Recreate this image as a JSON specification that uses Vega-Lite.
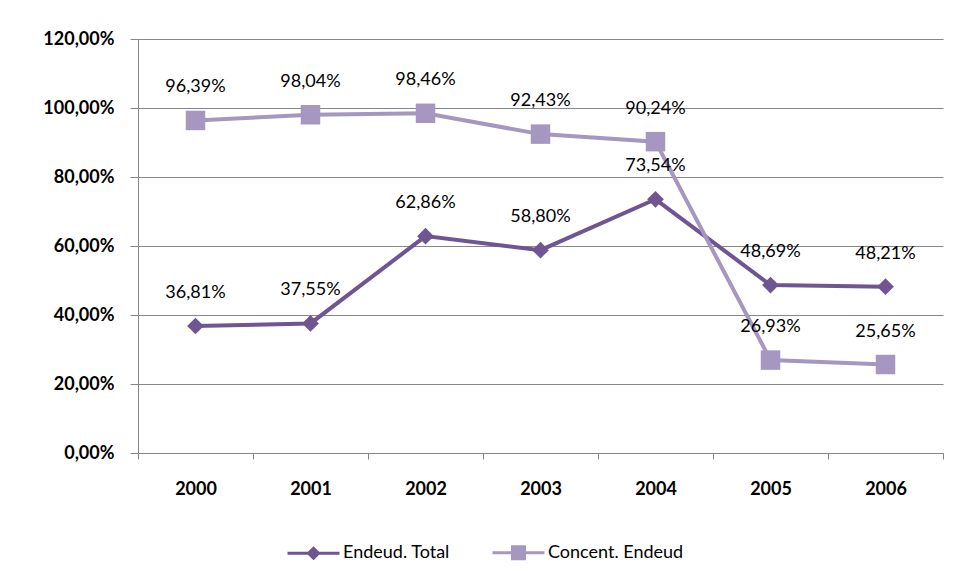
{
  "$schema": "https://vega.github.io/schema/vega-lite/v6.json",
  "width": 805,
  "height": 414,
  "autosize": {"type": "none"},
  "padding": {"left": 138, "top": 39, "right": 22, "bottom": 131},
  "background": "white",
  "config": {
    "locale": {"number": {"decimal": ",", "thousands": ".", "grouping": [3], "currency": ["", " €"]}},
    "view": {"stroke": null},
    "font": "Lato"
  },
  "data": {
    "values": [
      {"year": "2000", "series": "Endeud. Total", "value": 0.3681},
      {"year": "2001", "series": "Endeud. Total", "value": 0.3755},
      {"year": "2002", "series": "Endeud. Total", "value": 0.6286},
      {"year": "2003", "series": "Endeud. Total", "value": 0.5880},
      {"year": "2004", "series": "Endeud. Total", "value": 0.7354},
      {"year": "2005", "series": "Endeud. Total", "value": 0.4869},
      {"year": "2006", "series": "Endeud. Total", "value": 0.4821},
      {"year": "2000", "series": "Concent. Endeud", "value": 0.9639},
      {"year": "2001", "series": "Concent. Endeud", "value": 0.9804},
      {"year": "2002", "series": "Concent. Endeud", "value": 0.9846},
      {"year": "2003", "series": "Concent. Endeud", "value": 0.9243},
      {"year": "2004", "series": "Concent. Endeud", "value": 0.9024},
      {"year": "2005", "series": "Concent. Endeud", "value": 0.2693},
      {"year": "2006", "series": "Concent. Endeud", "value": 0.2565}
    ]
  },
  "encoding": {
    "x": {
      "field": "year", "type": "ordinal", "title": null,
      "scale": {"paddingInner": 0, "paddingOuter": 0},
      "axis": {
        "labelAngle": 0, "tickBand": "extent", "tickSize": 6, "tickColor": "#868686",
        "domainColor": "#868686", "labelFont": "Lato", "labelFontWeight": "bold",
        "labelFontSize": 18, "labelColor": "#000000", "labelPadding": 21, "grid": false
      }
    },
    "y": {
      "field": "value", "type": "quantitative", "title": null,
      "scale": {"domain": [0, 1.2], "nice": false},
      "axis": {
        "values": [0, 0.2, 0.4, 0.6, 0.8, 1.0, 1.2], "format": ".2%",
        "tickSize": 8, "tickColor": "#868686", "domainColor": "#868686",
        "gridColor": "#868686", "grid": true, "labelFont": "Lato", "labelFontWeight": "bold",
        "labelFontSize": 18, "labelColor": "#000000", "labelPadding": 16
      }
    }
  },
  "layer": [
    {
      "mark": {"type": "line", "strokeWidth": 4},
      "encoding": {
        "color": {
          "field": "series", "type": "nominal",
          "scale": {"domain": ["Endeud. Total", "Concent. Endeud"], "range": ["#6F5591", "#A697C0"]},
          "legend": {
            "title": null, "orient": "none", "direction": "horizontal",
            "legendX": 164, "legendY": 502, "padding": 0,
            "symbolSize": 400, "labelOffset": 18, "columnPadding": 36,
            "labelFont": "Lato", "labelFontSize": 18, "labelColor": "#000000",
            "encode": {
              "symbols": {
                "update": {
                  "shape": {"signal": "datum.value === 'Endeud. Total' ? 'M-2.6,0H2.6M0,-0.5L0.5,0L0,0.5L-0.5,0Z' : 'M-2.6,0H2.6M-0.6,-0.6H0.6V0.6H-0.6Z'"},
                  "fill": {"scale": "color", "field": "value"},
                  "stroke": {"scale": "color", "field": "value"},
                  "strokeWidth": {"value": 3},
                  "opacity": {"value": 1}
                }
              }
            }
          }
        }
      }
    },
    {
      "transform": [{"filter": "datum.series === 'Endeud. Total'"}],
      "mark": {"type": "point", "filled": true, "opacity": 1, "shape": "diamond", "size": 280, "color": "#6F5591"}
    },
    {
      "transform": [{"filter": "datum.series === 'Concent. Endeud'"}],
      "mark": {"type": "point", "filled": true, "opacity": 1, "shape": "square", "size": 380, "color": "#A697C0"}
    },
    {
      "mark": {"type": "text", "dy": -33, "font": "Lato", "fontSize": 18, "color": "#000000"},
      "encoding": {
        "text": {"field": "value", "type": "quantitative", "format": ".2%"}
      }
    }
  ]
}
